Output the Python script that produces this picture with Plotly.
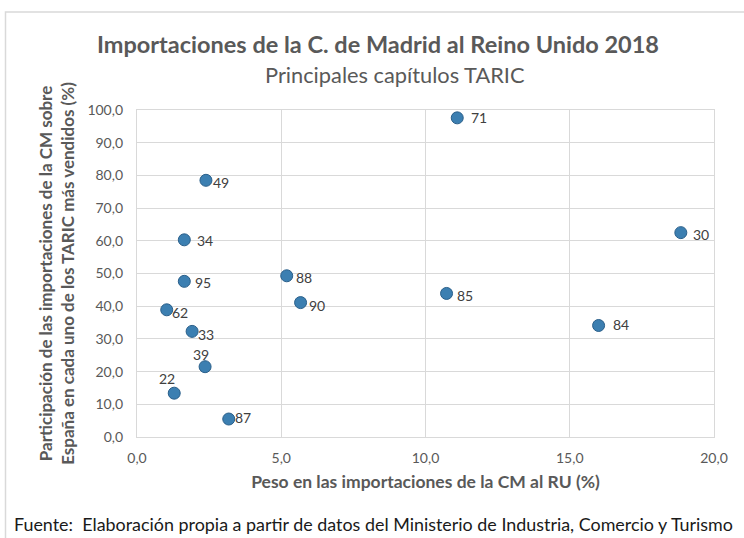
import plotly.graph_objects as go

# capítulos TARIC y sus valores
capitulos = ["71", "30", "85", "84", "49", "34", "95", "88", "90", "62", "33", "39", "22", "87"]
peso_cm_ru = [11.1, 18.85, 10.73, 16.0, 2.39, 1.64, 1.64, 5.19, 5.67, 1.03, 1.91, 2.36, 1.29, 3.18]
participacion = [97.6, 62.5, 43.9, 34.1, 78.5, 60.3, 47.6, 49.3, 41.1, 38.9, 32.3, 21.5, 13.4, 5.5]

# desplazamiento (px) de cada etiqueta respecto a su punto
desp_x = [22, 20, 18, 22, 15, 21, 19, 17, 16, 13, 14, -4, -7, 14]
desp_y = [0, -2, -2, 1, -2, -1, -1, -2, -3, -3, -3, 12, 15, 2]

gris = "#595959"
fuente = "Lato, 'Open Sans', sans-serif"

fig = go.Figure()
fig.add_trace(go.Scatter(
    x=peso_cm_ru, y=participacion,
    mode="markers",
    marker=dict(size=12, color="#3c7fb1", line=dict(color="#2a5f8a", width=1)),
    cliponaxis=False,
    showlegend=False,
))

# etiquetas de datos
for c, x, y, dx, dy in zip(capitulos, peso_cm_ru, participacion, desp_x, desp_y):
    fig.add_annotation(x=x, y=y, text=c, showarrow=False, xshift=dx, yshift=dy,
                       xanchor="center", yanchor="middle",
                       font=dict(size=14, color="#404040", family=fuente))

fig.update_layout(
    width=744, height=538,
    margin=dict(l=137, r=30, t=110, b=101),
    paper_bgcolor="white", plot_bgcolor="white",
    separators=",.",
    font=dict(family=fuente, color=gris, size=14),
    title=dict(
        text="<b>Importaciones de la C. de Madrid al Reino Unido 2018</b>",
        x=378 / 744, xanchor="center", y=1 - 45 / 538, yanchor="middle",
        font=dict(size=23.5, color=gris, family=fuente),
    ),
    xaxis=dict(
        range=[0, 20], dtick=5, tickformat=".1f",
        showgrid=True, gridcolor="#d9d9d9", gridwidth=1.3,
        showline=True, linecolor="#d9d9d9", linewidth=1.3, mirror=True,
        zeroline=False, ticks="", automargin=False, ticklabelstandoff=8,
        tickfont=dict(size=14, color=gris),
        title=dict(text="<b>Peso en las importaciones de la CM al RU (%)</b>",
                   font=dict(size=17.5, color=gris), standoff=10),
    ),
    yaxis=dict(
        range=[0, 100], dtick=10, tickformat=".1f",
        showgrid=True, gridcolor="#d9d9d9", gridwidth=1.3,
        showline=True, linecolor="#d9d9d9", linewidth=1.3, mirror=True,
        zeroline=False, ticks="", automargin=False, ticklabelstandoff=10,
        tickfont=dict(size=14, color=gris),
        title=dict(text="<b>Participación de las importaciones de la CM sobre<br>"
                        "España en cada uno de los TARIC más vendidos (%)</b>",
                   font=dict(size=17, color=gris), standoff=8),
    ),
)

# subtítulo
fig.add_annotation(text="Principales capítulos TARIC", xref="paper", yref="paper",
                   x=(395 - 137) / 577, y=(437 - 75) / 327, xanchor="center", yanchor="middle",
                   showarrow=False, font=dict(size=21.8, color=gris, family=fuente))

# marco del área del gráfico
fig.add_shape(type="rect", xref="paper", yref="paper",
              x0=(5.5 - 137) / 577, x1=1.12, y0=-0.4, y1=(437 - 12) / 327,
              line=dict(color="#d9d9d9", width=1.5), layer="below")

# nota de fuente
fig.add_annotation(
    text="Fuente:  Elaboración propia a partir de datos del Ministerio de Industria, Comercio y Turismo",
    xref="paper", yref="paper", x=(12 - 137) / 577, y=(437 - 524) / 327,
    xanchor="left", yanchor="middle",
    showarrow=False, font=dict(size=17.9, color="#1a1a1a", family=fuente),
)

# sin margen del body para que la figura ocupe la ventana desde (0, 0)
fig.write_html("out.html", config={"displayModeBar": False},
               post_script="document.body.style.margin='0';")
